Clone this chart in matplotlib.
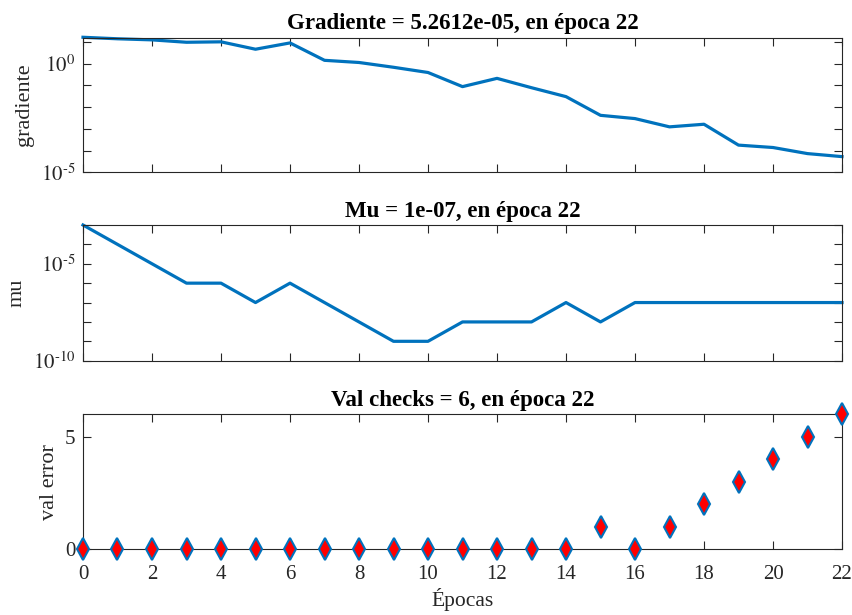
import matplotlib
matplotlib.use("Agg")
import matplotlib.pyplot as plt
import numpy as np
from matplotlib.ticker import FixedLocator, FixedFormatter, NullFormatter

plt.rcParams['font.family'] = ['Liberation Serif', 'DejaVu Serif']
plt.rcParams['mathtext.fontset'] = 'stix'

epochs = list(range(0, 23))
grad_log10 = [1.21, 1.14, 1.09, 0.98, 1.0, 0.66, 0.95, 0.15, 0.05, -0.17, -0.41,
              -1.06, -0.68, -1.11, -1.52, -2.38, -2.53, -2.91, -2.79, -3.75, -3.86,
              -4.14, -4.279]
mu_values = [1e-3, 1e-4, 1e-5, 1e-6, 1e-6, 1e-7, 1e-6, 1e-7, 1e-8, 1e-9, 1e-9,
             1e-8, 1e-8, 1e-8, 1e-7, 1e-8, 1e-7, 1e-7, 1e-7, 1e-7, 1e-7, 1e-7, 1e-7]
val_fail = [0, 0, 0, 0, 0, 0, 0, 0, 0, 0, 0, 0, 0, 0, 0, 1, 0, 1, 2, 3, 4, 5, 6]
xticks = list(range(0, 23, 2))

titles = ["Gradiente = 5.2612e-05, en época 22",
          "Mu = 1e-07, en época 22",
          "Val checks = 6, en época 22"]
ylabels = ["gradiente", "mu", "val error"]
xlabel = "Épocas"

blue = '#0072BD'
dark = '#262626'
fs = 15

fig = plt.figure(figsize=(8.53, 6.15), dpi=100)
W, H = 853, 615
def rect(l, r, t, b):
    return [l / W, 1 - b / H, (r - l) / W, (b - t) / H]

ax1 = fig.add_axes(rect(83, 842, 37.7, 172.3))
ax2 = fig.add_axes(rect(83, 842, 225, 360.7))
ax3 = fig.add_axes(rect(83, 842, 414.3, 549))

grad = [10 ** v for v in grad_log10]
ax1.semilogy(epochs, grad, color=blue, lw=2.3, clip_on=False)
ax1.set_ylim(1e-5, 10 ** 1.19)
ax2.semilogy(epochs, mu_values, color=blue, lw=2.3, clip_on=False)
ax2.set_ylim(1e-10, 1e-3)
ax3.plot(epochs, val_fail, linestyle='none', marker='d', markersize=11,
         markerfacecolor='red', markeredgecolor=blue, markeredgewidth=1.5, clip_on=False,
         zorder=5)
ax3.set_ylim(0, 6)

for ax, t, yl in zip([ax1, ax2, ax3], titles, ylabels):
    ax.set_xlim(0, 22)
    ax.set_xticks(xticks)
    ax.set_title(t, fontsize=16.5, fontweight='bold', color='black', pad=6)
    ax.set_ylabel(yl, fontsize=16, color=dark)
    ax.tick_params(axis='both', which='both', direction='in', top=True, right=True,
                   colors=dark, labelsize=fs, length=5.5, width=0.8)
    ax.tick_params(axis='both', which='minor', length=5.5)
    ax.tick_params(axis='x', pad=11.5)
    ax.tick_params(axis='y', pad=5.5)
    for s in ax.spines.values():
        s.set_color(dark)
        s.set_linewidth(0.8)

ax1.tick_params(axis='x', labelbottom=False)
ax2.tick_params(axis='x', labelbottom=False)

ax1.yaxis.set_major_locator(FixedLocator([1e-5, 1e0]))
ax1.yaxis.set_major_formatter(FixedFormatter([r'$10^{\text{-5}}$', r'$10^{0}$']))
ax1.yaxis.set_minor_locator(FixedLocator([1e-4, 1e-3, 1e-2, 1e-1, 1e1]))
ax1.yaxis.set_minor_formatter(NullFormatter())

ax2.yaxis.set_major_locator(FixedLocator([1e-10, 1e-5]))
ax2.yaxis.set_major_formatter(FixedFormatter([r'$10^{\text{-10}}$', r'$10^{\text{-5}}$']))
ax2.yaxis.set_minor_locator(FixedLocator([1e-9, 1e-8, 1e-7, 1e-6, 1e-4, 1e-3]))
ax2.yaxis.set_minor_formatter(NullFormatter())

ax3.set_yticks([0, 5])
ax3.set_xlabel(xlabel, fontsize=15.5, color=dark, labelpad=3)

ax1.yaxis.set_label_coords(-0.065, 0.5)
ax2.yaxis.set_label_coords(-0.074, 0.5)
ax3.yaxis.set_label_coords(-0.031, 0.5)

fig.savefig("out.png", dpi=100)
